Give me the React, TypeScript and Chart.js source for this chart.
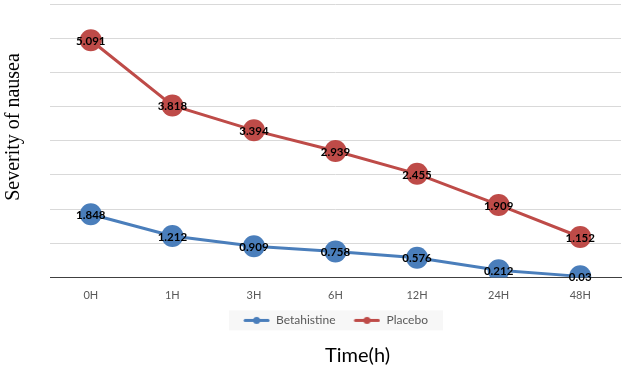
import React, { useEffect, useRef } from "react";
import { Chart, registerables } from "chart.js";

Chart.register(...registerables);

const categories = ["0H", "1H", "3H", "6H", "12H", "24H", "48H"];
const betahistine = [1.848, 1.212, 0.909, 0.758, 0.576, 0.212, 0.03];
const placebo = [5.091, 3.818, 3.394, 2.939, 2.455, 1.909, 1.152];
const seriesNames = ["Betahistine", "Placebo"];
const seriesColors = ["#4A7EBB", "#BE4B48"];
const yTitle = "Severity of nausea";
const xTitle = "Time(h)";

function makeMarker(color: string): HTMLCanvasElement {
  const c = document.createElement("canvas");
  c.width = 34;
  c.height = 9;
  const ctx = c.getContext("2d")!;
  ctx.strokeStyle = color;
  ctx.lineWidth = 3;
  ctx.lineCap = "round";
  ctx.beginPath();
  ctx.moveTo(9, 4.5);
  ctx.lineTo(32, 4.5);
  ctx.stroke();
  ctx.fillStyle = color;
  ctx.beginPath();
  ctx.arc(20.5, 4.5, 3.5, 0, Math.PI * 2);
  ctx.fill();
  return c;
}

export default function App() {
  const ref = useRef<HTMLCanvasElement | null>(null);

  useEffect(() => {
    if (!ref.current) return;
    const markers = seriesColors.map(makeMarker);
    const rawData = [betahistine, placebo];

    const labelPlugin = {
      id: "valueLabels",
      afterDatasetsDraw(chart: any) {
        const ctx = chart.ctx;
        ctx.save();
        ctx.font = "bold 11.5px Lato";
        ctx.fillStyle = "#000000";
        ctx.textAlign = "center";
        ctx.textBaseline = "middle";
        chart.data.datasets.forEach((_ds: any, di: number) => {
          const meta = chart.getDatasetMeta(di);
          meta.data.forEach((el: any, i: number) => {
            ctx.fillText(String(rawData[di][i]), el.x, el.y + 1);
          });
        });
        ctx.restore();
      },
    };

    const shiftPlugin = {
      id: "shiftBoxes",
      afterLayout(chart: any) {
        const ca = chart.chartArea;
        const mid = (ca.left + ca.right) / 2;
        const lg = chart.legend;
        if (lg) {
          const dx = mid - 3.5 - (lg.left + lg.right) / 2;
          lg.left += dx;
          lg.right += dx;
        }
        const tb = chart.titleBlock;
        if (tb) {
          const dx2 = mid + 22 - (tb.left + tb.right) / 2;
          tb.left += dx2;
          tb.right += dx2;
        }
      },
    };

    const legendBg = {
      id: "legendBg",
      beforeDraw(chart: any) {
        const lg = chart.legend;
        if (!lg || !lg.legendHitBoxes || !lg.legendHitBoxes.length) return;
        const hb = lg.legendHitBoxes;
        let l = Infinity, r = -Infinity, t = Infinity, b = -Infinity;
        hb.forEach((h: any) => {
          l = Math.min(l, h.left);
          r = Math.max(r, h.left + h.width);
          t = Math.min(t, h.top);
          b = Math.max(b, h.top + h.height);
        });
        const ctx = chart.ctx;
        ctx.save();
        ctx.fillStyle = "#F7F7F7";
        ctx.fillRect(l - 7, t - 4, r - l + 22, b - t + 8);
        ctx.restore();
      },
    };

    const yTitlePlugin = {
      id: "yTitle",
      afterDraw(chart: any) {
        const ctx = chart.ctx;
        ctx.save();
        ctx.translate(14, 127);
        ctx.rotate(-Math.PI / 2);
        ctx.font = "20px 'Liberation Serif'";
        ctx.fillStyle = "#000000";
        ctx.textAlign = "center";
        ctx.textBaseline = "middle";
        ctx.fillText(yTitle, 0, 0);
        ctx.restore();
      },
    };

    const chart = new Chart(ref.current, {
      type: "line",
      data: {
        labels: categories,
        datasets: rawData.map((d, i) => ({
          label: seriesNames[i],
          data: d,
          borderColor: seriesColors[i],
          backgroundColor: seriesColors[i],
          pointBackgroundColor: seriesColors[i],
          pointBorderColor: seriesColors[i],
          pointRadius: 11,
          pointBorderWidth: 0,
          borderWidth: 3,
          fill: false,
          tension: 0,
        })),
      },
      options: {
        responsive: false,
        animation: false,
        layout: { autoPadding: false, padding: { top: 4, right: 2, left: 0, bottom: 0 } },
        scales: {
          x: {
            offset: true,
            grid: { display: false, drawTicks: false },
            border: { display: true, color: "#404040", width: 1 },
            ticks: {
              color: "#595959",
              font: { family: "Lato", size: 11 },
              padding: 11,
            },
            afterFit: (s: any) => {
              s.height = 26;
            },
          },
          y: {
            stacked: true,
            min: 0,
            max: 8,
            ticks: { display: false, stepSize: 1 },
            grid: { color: "#D9D9D9", lineWidth: 1, drawTicks: false },
            border: { display: false },
            afterFit: (s: any) => {
              s.width = 50;
            },
          },
        },
        plugins: {
          tooltip: { enabled: false },
          legend: {
            position: "bottom",
            labels: {
              usePointStyle: true,
              pointStyleWidth: 34,
              padding: 11,
              color: "#595959",
              font: { family: "Lato", size: 12 },
              generateLabels: (ch: any) =>
                ch.data.datasets.map((ds: any, i: number) => ({
                  text: ds.label,
                  fillStyle: ds.backgroundColor,
                  strokeStyle: ds.borderColor,
                  lineWidth: 0,
                  pointStyle: markers[i],
                  hidden: false,
                  datasetIndex: i,
                  fontColor: "#595959",
                })),
            },
          },
          title: {
            display: true,
            position: "bottom",
            text: xTitle,
            color: "#000000",
            font: { family: "Lato", size: 20, weight: "normal", lineHeight: 1 },
            padding: { top: 9.6, bottom: 1 },
          },
        },
      },
      plugins: [shiftPlugin, labelPlugin, legendBg, yTitlePlugin],
    } as any);

    return () => chart.destroy();
  }, []);

  return (
    <div style={{ position: "fixed", left: 0, top: 0, width: 623, height: 367, background: "#fff" }}>
      <canvas ref={ref} width={623} height={367} />
    </div>
  );
}
